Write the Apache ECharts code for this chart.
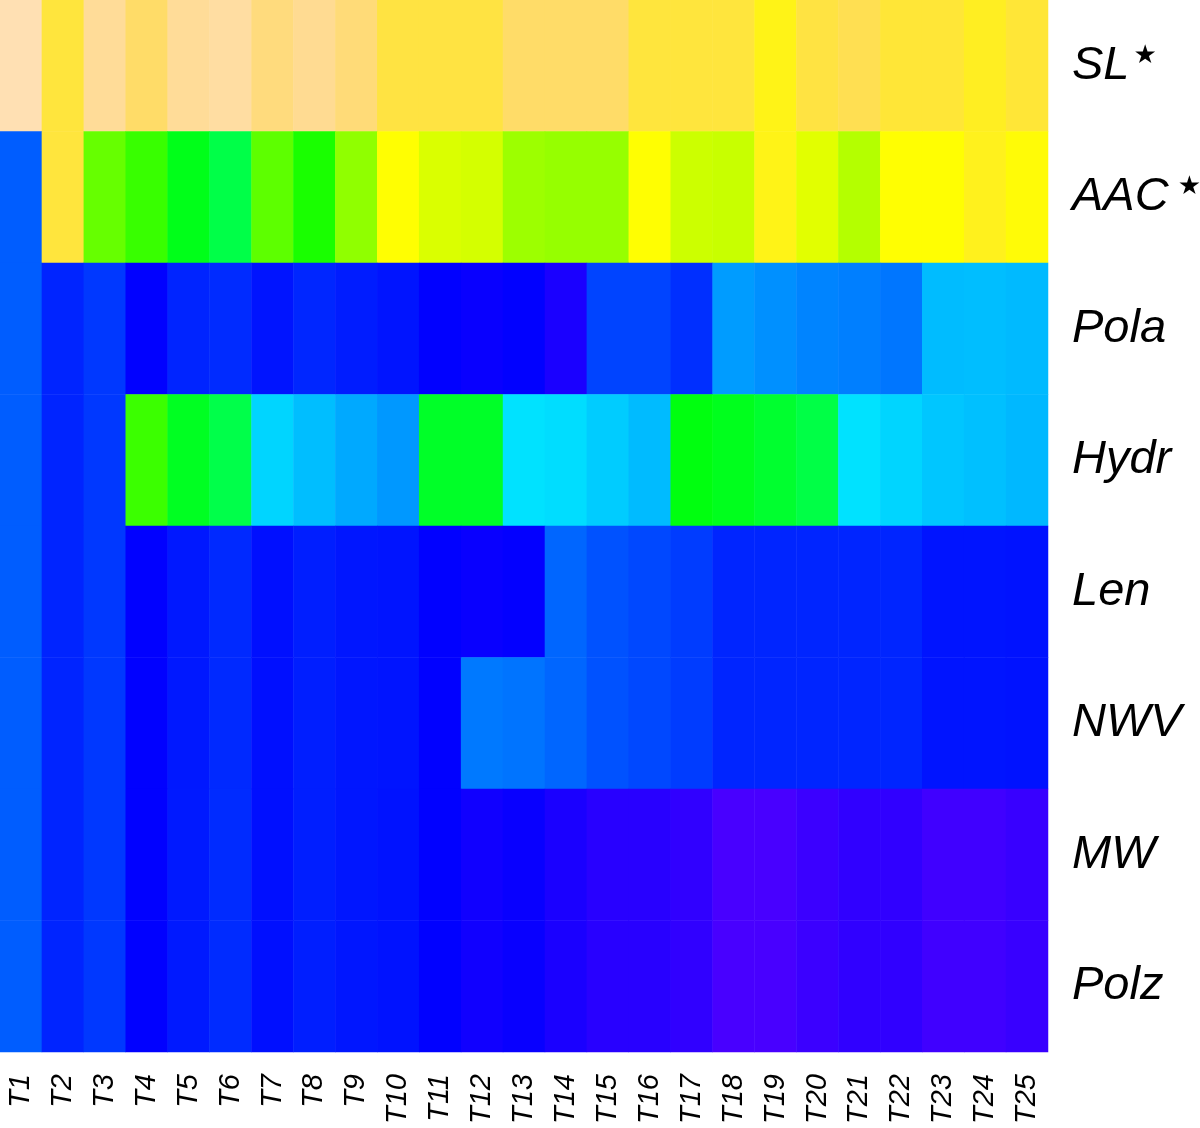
<!DOCTYPE html>
<html><head><meta charset="utf-8">
<script src="https://cdn.jsdelivr.net/npm/echarts@6/dist/echarts.min.js"></script>
<style>html,body{margin:0;padding:0;background:#fff}#c{width:1200px;height:1128px}</style>
</head><body><div id="c"></div>
<script>
// Column (sample) labels
const columns = ['T1','T2','T3','T4','T5','T6','T7','T8','T9','T10','T11','T12','T13','T14','T15','T16','T17','T18','T19','T20','T21','T22','T23','T24','T25'];
// Row labels, top to bottom
const rows = ['SL','AAC','Pola','Hydr','Len','NWV','MW','Polz'];
const starredRows = ['SL','AAC'];

// Cell values (position on the colour scale, 0 = purple-blue ... 100 = peach)
const SL   = [100, 78, 95, 86, 95, 97, 90, 94, 89, 79, 79, 79, 86, 86, 86, 78, 78, 78, 71, 79, 82, 77, 77, 73, 77];
const AAC  = [18.5, 78, 52.8, 47.7, 38.9, 33.8, 51.8, 44.4, 57.4, 67, 65.4, 64.8, 58.8, 58, 58, 67, 63.9, 63.5, 71, 66.3, 61.3, 67, 67, 72, 68];
const Pola = [18.5, 12.2, 14.4, 8.3, 12.3, 13, 10.5, 12.5, 11.4, 10.5, 8.3, 7.5, 8.3, 5.5, 15.7, 15.7, 13.5, 25.3, 24, 22.7, 22.2, 21.2, 28.8, 29, 28.6];
const Hydr = [18.5, 12.2, 14.4, 48.1, 38, 33.6, 31.5, 29, 26.8, 24.9, 37.3, 37.3, 33, 32.4, 30.6, 28.7, 40, 38.5, 36.5, 34, 33, 31.5, 29.9, 29.2, 28.4];
const Len  = [18.5, 12.2, 14.4, 8.3, 11, 12.8, 10, 11.6, 10.8, 10.5, 8.3, 7.5, 8, 19.4, 17.3, 16.2, 14.9, 12.4, 12.4, 12.4, 12.4, 12.4, 10.5, 10.5, 10.3];
const NWV  = [18.5, 12.2, 14.4, 8.3, 11, 12.8, 10, 11.6, 10.8, 10.5, 8.3, 21.5, 21, 19.4, 17.3, 16.2, 14.9, 12.4, 12.4, 12.4, 12.4, 12.4, 10.5, 10.5, 10.3];
const MW   = [18.5, 12.2, 14.4, 8.3, 11.1, 13, 10, 11.6, 10.8, 10.3, 8.3, 6.6, 7.5, 5.5, 4, 4, 3.1, 0.5, 0.5, 1.9, 3.1, 3.1, 1.4, 1.4, 2.3];
const Polz = [18.5, 12.2, 14.4, 8.3, 11.1, 13, 10, 11.6, 10.8, 10.3, 8.3, 6.6, 7.5, 5.5, 4, 4, 3.1, 0.5, 0.5, 1.9, 3.1, 3.1, 1.4, 1.4, 2.3];

const rowValues = [SL, AAC, Pola, Hydr, Len, NWV, MW, Polz];

// topo-style colour ramp
function hsvHex(h, s, v) {
  h = ((h % 360) + 360) % 360;
  const c = v * s, x = c * (1 - Math.abs((h / 60) % 2 - 1)), m = v - c;
  let r, g, b;
  if (h < 60) [r, g, b] = [c, x, 0];
  else if (h < 120) [r, g, b] = [x, c, 0];
  else if (h < 180) [r, g, b] = [0, c, x];
  else if (h < 240) [r, g, b] = [0, x, c];
  else if (h < 300) [r, g, b] = [x, 0, c];
  else [r, g, b] = [c, 0, x];
  const f = n => Math.round((n + m) * 255).toString(16).padStart(2, '0');
  return '#' + f(r) + f(g) + f(b);
}
function topo(t) {
  const u = t / 100 * 3;
  if (u < 1) return hsvHex(258 - 72 * u, 1, 1);
  if (u < 2) return hsvHex(138 - 72 * (u - 1), 1, 1);
  const w = Math.min(u - 2, 1);
  return hsvHex(60 - 24 * w, 1 - 0.7 * w, 1);
}
const stops = [];
for (let i = 0; i <= 200; i++) stops.push(topo(i / 2));

const data = [];
rowValues.forEach((vals, r) => vals.forEach((v, c) => data.push([c, r, v])));

const chart = echarts.init(document.getElementById('c'), null, {renderer: 'canvas'});
chart.setOption({
  animation: false,
  backgroundColor: '#ffffff',
  grid: {left: 0, top: 0, width: 1048, height: 1052, containLabel: false, outerBoundsMode: 'none'},
  xAxis: {
    type: 'category', data: columns,
    axisLine: {show: false}, axisTick: {show: false}, splitArea: {show: false},
    axisLabel: {rotate: 90, margin: 22, fontSize: 29, fontStyle: 'italic',
      fontFamily: 'Liberation Sans, Arial, sans-serif', color: '#000', interval: 0}
  },
  yAxis: {
    type: 'category', data: rows, inverse: true, position: 'right',
    axisLine: {show: false}, axisTick: {show: false}, splitArea: {show: false},
    axisLabel: {
      margin: 24, interval: 0,
      formatter: function (name) {
        if (name === 'SL') return '{t|SL}{s|★}';
        if (name === 'AAC') return '{t|AAC}{s2|★}';
        return '{t|' + name + '}';
      },
      rich: {
        t: {fontSize: 47, fontStyle: 'italic', fontFamily: 'Liberation Sans, Arial, sans-serif', color: '#000', lineHeight: 46},
        s: {fontSize: 26, fontFamily: 'DejaVu Sans', color: '#000', verticalAlign: 'top', lineHeight: 26, padding: [0, 0, 0, 4]},
        s2: {fontSize: 26, fontFamily: 'DejaVu Sans', color: '#000', verticalAlign: 'top', lineHeight: 26, padding: [0, 0, 0, 9]}
      }
    }
  },
  visualMap: {show: false, min: 0, max: 100, dimension: 2, inRange: {color: stops}},
  series: [{
    type: 'heatmap', data: data,
    itemStyle: {borderWidth: 0},
    emphasis: {disabled: true}
  }]
});
</script></body></html>
